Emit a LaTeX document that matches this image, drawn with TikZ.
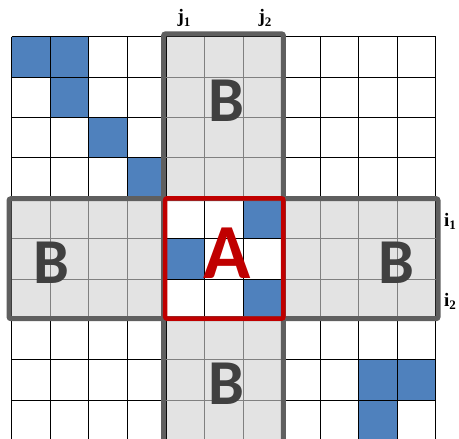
\documentclass[tikz,border=0pt]{standalone}
\usepackage{fontspec}
\usepackage{tikz}
\newfontfamily\blockfont{Carlito}
\newfontfamily\indexfont{Liberation Serif}
\definecolor{cellblue}{HTML}{4F81BD}
\definecolor{bandgray}{HTML}{E3E3E3}
\definecolor{framegray}{HTML}{5F5F5F}
\definecolor{blockred}{HTML}{C00000}
\definecolor{lettergray}{HTML}{404040}
\newcommand{\idx}[2]{#1\raisebox{-3.5pt}{\fontsize{13}{13}\selectfont #2}}

\begin{document}
\begin{tikzpicture}[
    x=38.55pt, y=-40.4pt,
    nz/.style={fill=cellblue},
    gline/.style={line width=0.8pt},
    frame/.style={draw=framegray, line width=5pt, rounded corners=2pt},
    blk/.style={font=\blockfont\bfseries\fontsize{64}{64}\selectfont, text=lettergray, inner sep=0pt},
    blkA/.style={font=\blockfont\bfseries\fontsize{78}{78}\selectfont, text=blockred, inner sep=0pt},
    lbl/.style={font=\indexfont\bfseries\fontsize{19}{19}\selectfont, inner sep=0pt, anchor=base}
]
\clip (-0.3035,-0.908) rectangle (11.603,9.958);
% bands of B
\fill[bandgray] (4,-0.1) rectangle (7,10.5);
\fill[bandgray] (0,4) rectangle (11,7);
\fill[white] (4,4) rectangle (7,7);
% nonzero entries
\foreach \r/\c in {0/0,0/1,1/1,2/2,3/3,4/6,5/4,6/6,8/9,8/10,9/9}
    \fill[nz] (\c,\r) rectangle ++(1,1);
% grid
\foreach \c in {0,...,11}
    \draw[gline] (\c,0) -- (\c,10.5);
\foreach \r in {0,...,10}
    \draw[gline] (0,\r) -- (11,\r);
% lighter lines inside the B bands
\foreach \c in {5,6}{
    \draw[gline, gray] (\c,0) -- (\c,4);
    \draw[gline, gray] (\c,7) -- (\c,10.5);
}
\foreach \r in {1,2,3,8,9}
    \draw[gline, gray] (4,\r) -- (7,\r);
\foreach \r in {5,6}{
    \draw[gline, gray] (0,\r) -- (4,\r);
    \draw[gline, gray] (7,\r) -- (11,\r);
}
\foreach \c in {1,2,3,8,9,10}
    \draw[gline, gray] (\c,4) -- (\c,7);
% frames
\draw[frame] (3.94,-0.07) rectangle (7.05,10.3);
\draw[frame] (-0.07,4.01) rectangle (11.06,6.98);
\draw[blockred, line width=4.5pt, rounded corners=2pt] (3.98,4.0) rectangle (7.05,6.98);

\node[blk] (Btop) at (5.56,1.59) {B};
\node[blk] (Bbot) at (5.56,8.6) {B};
\node[blk] (Bleft) at (1.02,5.6) {B};
\node[blk] (Bright) at (9.99,5.6) {B};
\node[blkA] (A) at (5.59,5.35) {A};

\node[lbl] (j1) at (4.47,-0.34) {\idx{j}{1}};
\node[lbl] (j2) at (6.57,-0.34) {\idx{j}{2}};
\node[lbl] (i1) at (11.37,4.69) {\idx{i}{1}};
\node[lbl] (i2) at (11.37,6.67) {\idx{i}{2}};
\end{tikzpicture}
\end{document}
